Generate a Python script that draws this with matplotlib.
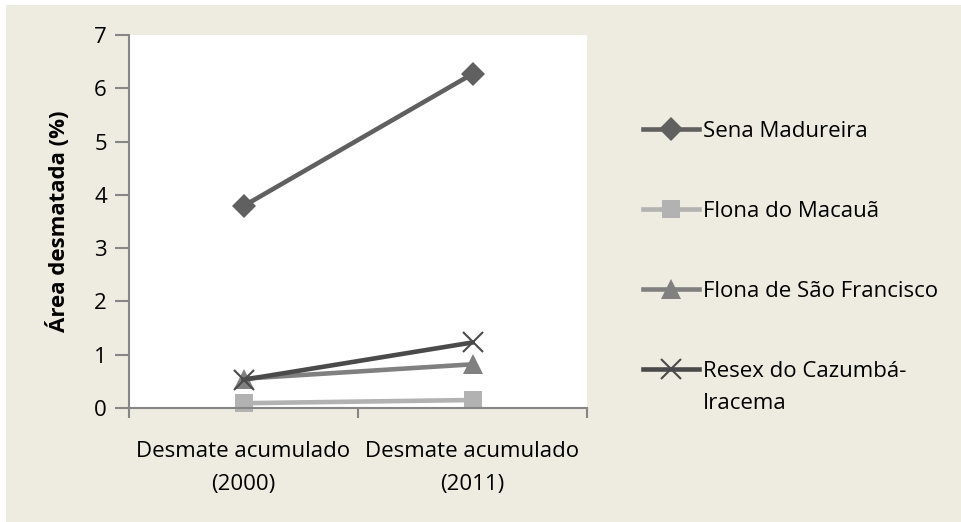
import matplotlib.pyplot as plt
from matplotlib.patches import Rectangle

plt.rcParams['font.family'] = ['Open Sans', 'DejaVu Sans']

# dados
categorias = ["Desmate acumulado\n(2000)", "Desmate acumulado\n(2011)"]
series = ["Sena Madureira", "Flona do Macauã", "Flona de São Francisco",
          "Resex do Cazumbá-"]
series_cont = "Iracema"  # segunda linha do último rótulo
sena_madureira = [3.79, 6.27]
flona_macaua = [0.09, 0.15]
flona_sao_francisco = [0.55, 0.82]
resex_cazumba = [0.53, 1.23]

valores = [sena_madureira, flona_macaua, flona_sao_francisco, resex_cazumba]
cores = ["#606060", "#b2b2b2", "#808080", "#4a4a4a"]
marcadores = ["D", "s", "^", "x"]
tam_marcador = [12, 13, 14, 14]

fig = plt.figure(figsize=(9.62, 5.22), dpi=100)
fig.patch.set_facecolor("white")
fig.patches.append(Rectangle((6 / 962, 0), 1, 1 - 5 / 522, transform=fig.transFigure,
                             facecolor="#eeebe0", edgecolor="none", zorder=-10))

ax = fig.add_axes([129 / 962, 114 / 522, 458 / 962, 373 / 522])
ax.set_facecolor("white")

x = list(range(len(categorias)))
for vals, nome, cor, m, ms in zip(valores, series, cores, marcadores, tam_marcador):
    mew = 1.5 if m == "x" else 0
    ax.plot(x, vals, color=cor, linewidth=3.3, marker=m, markersize=ms,
            markeredgewidth=mew, markeredgecolor=cor, label=nome, clip_on=False)

ax.set_xlim(-0.5, 1.5)
ax.set_ylim(0, 7)
ax.set_yticks(range(0, 8))
ax.set_xticks([-0.5, 0.5, 1.5])
ax.set_xticklabels([])
ax.set_xticks(x, minor=True)
ax.set_xticklabels(categorias, minor=True, fontsize=16, linespacing=1.7)
ax.tick_params(axis="x", which="minor", length=0, pad=24)
ax.tick_params(axis="x", which="major", length=7, width=1.5, color="#868686")
ax.tick_params(axis="y", length=10, width=1.5, color="#868686", labelsize=16, pad=6)

for lado in ["top", "right"]:
    ax.spines[lado].set_visible(False)
for lado in ["left", "bottom"]:
    ax.spines[lado].set_color("#868686")
    ax.spines[lado].set_linewidth(1.5)

ax.set_ylabel("Área desmatada (%)", fontsize=16, fontweight="bold", labelpad=17)

leg = fig.legend(loc="upper left", bbox_to_anchor=(643 / 962, 1 - 121 / 522),
                 frameon=False, fontsize=16, handlelength=2.5, handletextpad=0.2,
                 labelspacing=2.65, borderpad=0, borderaxespad=0)

# segunda linha do último item da legenda, logo abaixo do texto
fig.canvas.draw()
caixa = leg.get_texts()[-1].get_window_extent()
fig.text(caixa.x0 / fig.bbox.width, (caixa.y0 - 11) / fig.bbox.height, series_cont,
         fontsize=16, va="top", ha="left")

fig.savefig("out.png", dpi=100, facecolor=fig.get_facecolor())
